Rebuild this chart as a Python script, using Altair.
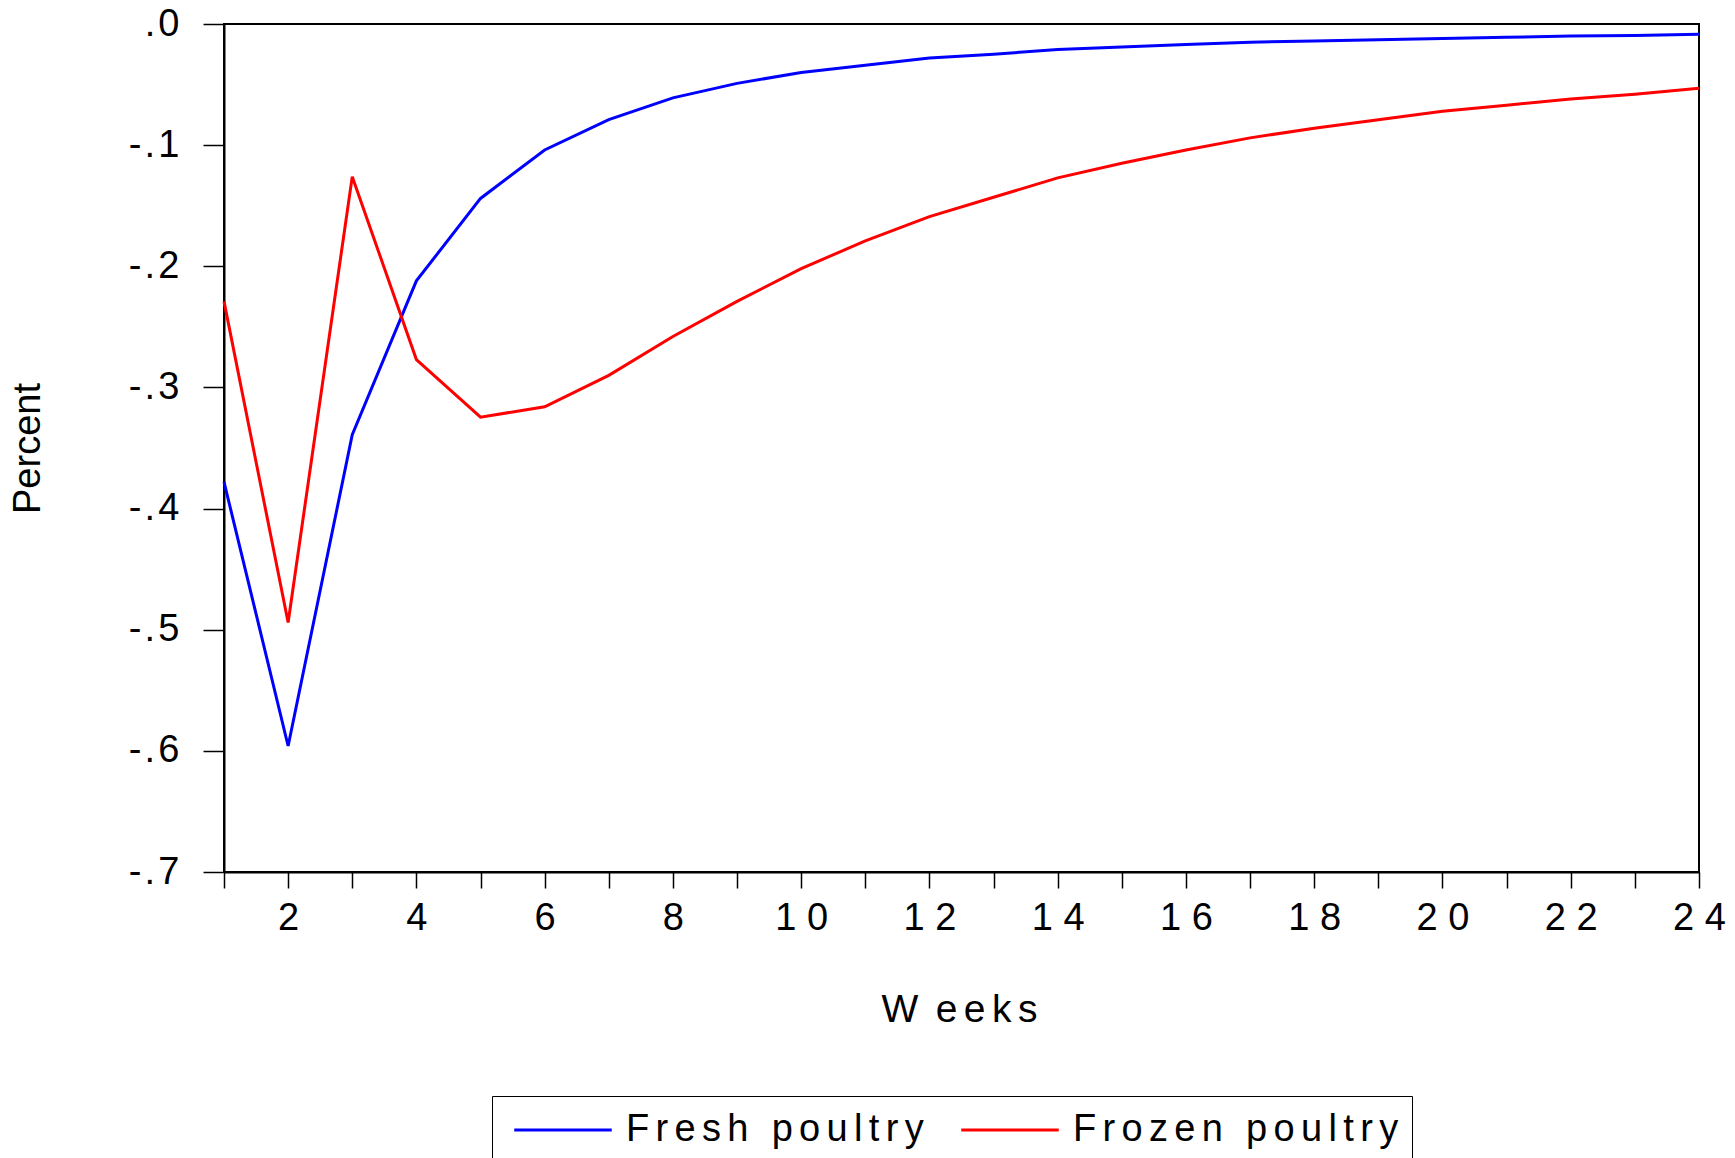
import altair as alt
import pandas as pd

weeks = list(range(1, 25))
fresh = [-0.378, -0.596, -0.339, -0.212, -0.144, -0.104, -0.079, -0.061, -0.049, -0.040,
         -0.034, -0.028, -0.025, -0.021, -0.019, -0.017, -0.015, -0.014, -0.013, -0.012,
         -0.011, -0.010, -0.0095, -0.0085]
frozen = [-0.229, -0.494, -0.126, -0.277, -0.3245, -0.316, -0.290, -0.258, -0.229, -0.202,
          -0.179, -0.159, -0.143, -0.127, -0.115, -0.104, -0.094, -0.086, -0.079, -0.072,
          -0.067, -0.062, -0.058, -0.053]
series_names = ["Fresh poultry", "Frozen poultry"]
series_colors = ["#0000FF", "#FF0000"]
y_ticks = [-0.7, -0.6, -0.5, -0.4, -0.3, -0.2, -0.1, 0.0]

rows = []
for name, vals in zip(series_names, [fresh, frozen]):
    for w, v in zip(weeks, vals):
        rows.append({"Weeks": w, "Percent": v, "Series": name})
df = pd.DataFrame(rows)

FONT = "Liberation Sans, Arial, sans-serif"
SS = "\u2006"   # six-per-em space
HS = "\u200a"   # hair space

chart = alt.Chart(df).mark_line(strokeWidth=3).encode(
    x=alt.X("Weeks:Q",
            scale=alt.Scale(domain=[1, 24], nice=False, zero=False),
            axis=alt.Axis(
                values=weeks, grid=False, tickSize=16, tickWidth=1.5, tickColor="black",
                domainColor="black", domainWidth=2,
                labelExpr="datum.value % 2 == 0 ? join(split(toString(datum.value), ''), ' ') + ' ' : ''",
                labelFont=FONT, labelFontSize=38, labelColor="black", labelPadding=11,
                labelOverlap=False, labelFlush=False, labelBound=False,
                title=f"W {SS}e{SS}e{SS}k{SS}s", titleFont=FONT, titleFontSize=39,
                titleFontWeight="normal", titleColor="black",
                titleX=735, titleY=137, titleBaseline="middle", titleAlign="center")),
    y=alt.Y("Percent:Q",
            scale=alt.Scale(domain=[-0.7, 0], nice=False, zero=False),
            axis=alt.Axis(
                values=y_ticks, grid=False, tickSize=21, tickWidth=1.5, tickColor="black",
                domainColor="black", domainWidth=2,
                labelExpr=("join(split(replace(replace(format(datum.value, '.1f'), '\u2212', '-'),"
                           f" '0.', '.'), ''), '{HS}')"),
                labelFont=FONT, labelFontSize=38, labelColor="black", labelPadding=24,
                labelOverlap=False, labelFlush=False, labelBound=False,
                title="Percent", titleFont=FONT, titleFontSize=38,
                titleFontWeight="normal", titleColor="black",
                titleX=-196, titleY=424, titleAngle=270, titleBaseline="middle", titleAlign="center")),
    color=alt.Color("Series:N",
                    scale=alt.Scale(domain=series_names, range=series_colors),
                    legend=alt.Legend(
                        title=None, orient="none", legendX=268, legendY=1072,
                        direction="horizontal", symbolType="M-2.5,0H2.5", symbolSize=1521,
                        symbolStrokeWidth=3, symbolOffset=37, labelOffset=42,
                        columnPadding=28, padding=13,
                        strokeColor="black", fillColor="white",
                        labelFont=FONT, labelFontSize=38, labelColor="black", labelLimit=600,
                        labelExpr=f"join(split(datum.label, ''), '{SS}')")),
).properties(
    width=1475, height=848,
    autosize=alt.AutoSizeParams(type="none"),
    padding={"left": 224, "top": 24, "right": 36, "bottom": 286},
).configure(background="white").configure_view(stroke="black", strokeWidth=2)

chart.save("out.html", embed_options={"renderer": "svg", "actions": False})
